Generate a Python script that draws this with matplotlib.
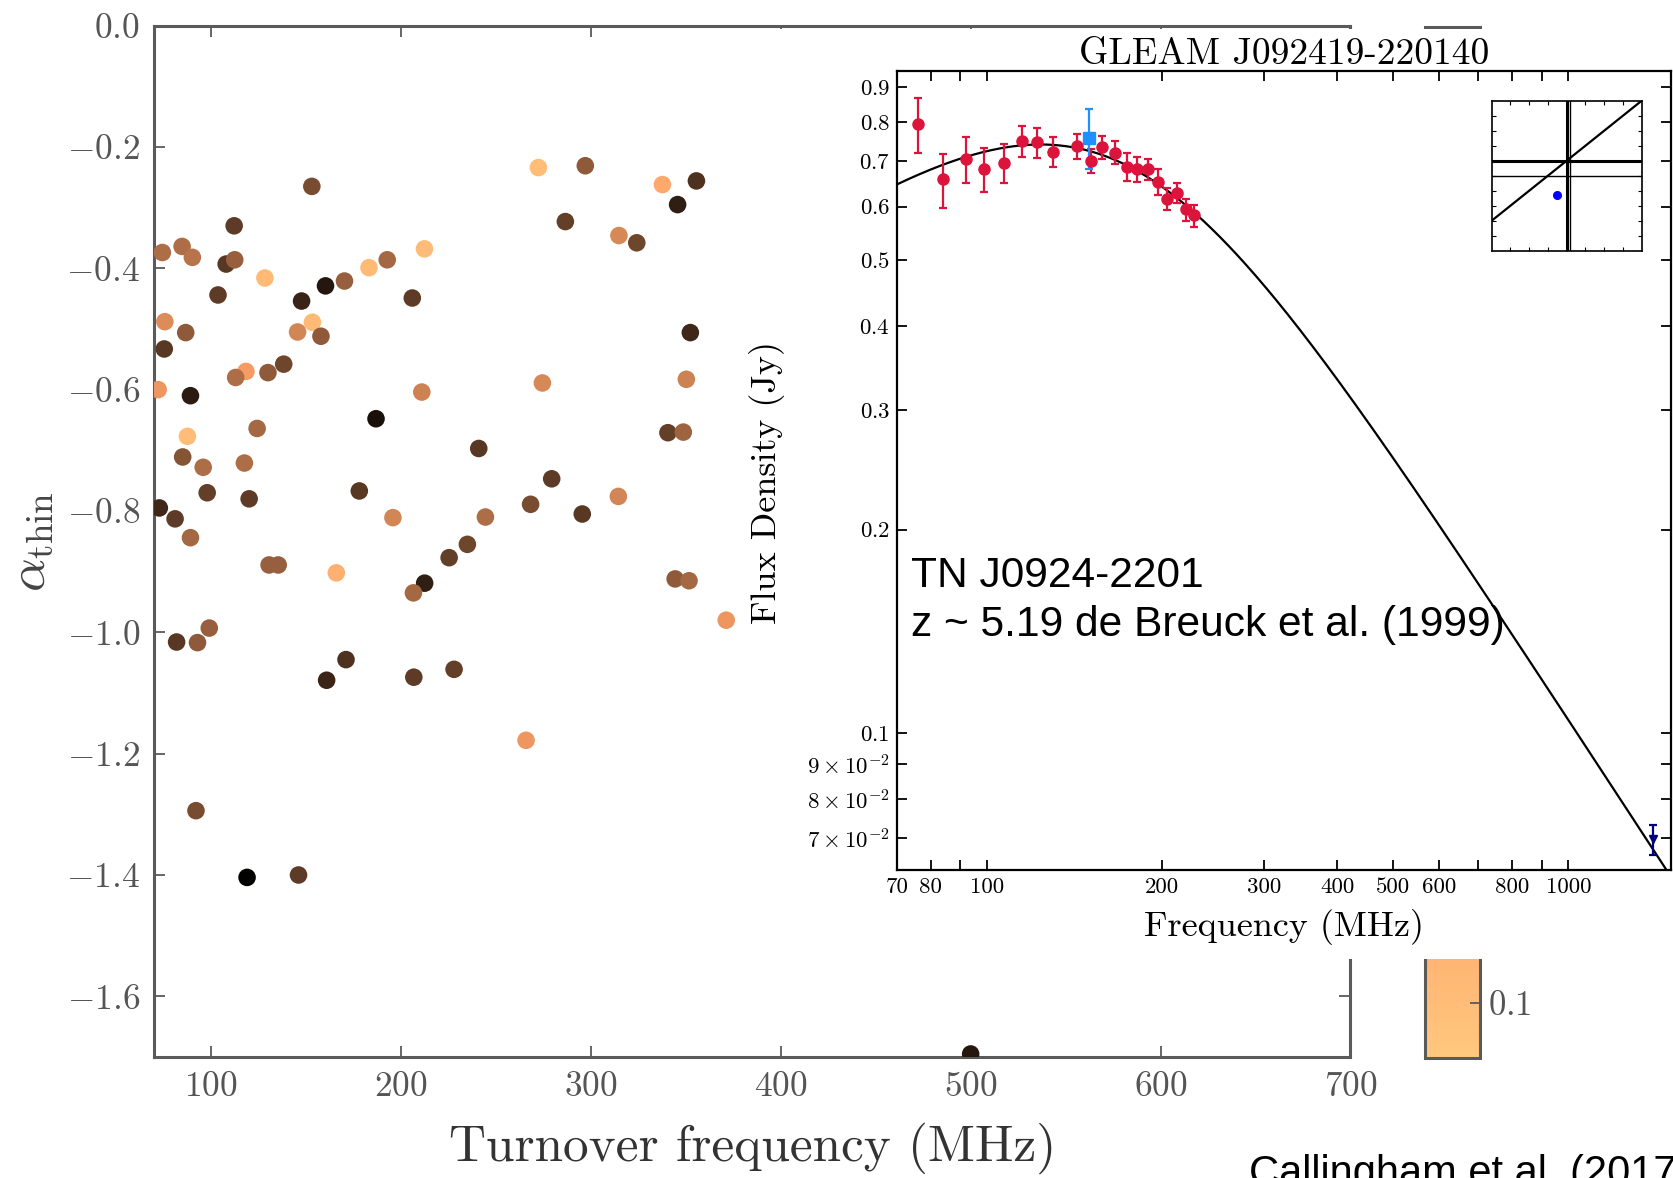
import numpy as np
import matplotlib
matplotlib.use("Agg")
import matplotlib.pyplot as plt
from matplotlib.colors import LogNorm
from matplotlib.patches import Rectangle

# ---------------- peaked-spectrum sample ----------------
turnover_mhz = [74.4, 84.8, 90.2, 112.2, 108.0, 112.5, 153.1, 103.7, 128.4, 75.7,
                86.7, 75.4, 147.7, 160.3, 170.3, 183.2, 192.8, 212.4, 206.0, 153.4,
                145.6, 157.9, 118.4, 113.0, 130.0, 138.3, 72.2, 89.2, 211.0, 186.9,
                87.6, 124.3, 85.1, 95.9, 117.6, 98.0, 120.1, 178.1, 72.8, 81.1,
                89.2, 195.8, 241.0, 279.4, 268.3, 295.5, 244.5, 314.5, 272.4, 297.1,
                286.6, 314.8, 324.2, 337.7, 345.7, 355.6, 352.4, 274.5, 350.3, 340.6,
                348.7, 130.6, 135.4, 166.0, 212.5, 206.6, 225.4, 235.0, 81.9, 92.9,
                99.1, 160.9, 171.1, 206.8, 228.0, 371.3, 344.4, 351.7, 265.9, 92.1,
                119.0, 146.1, 500.0]
alpha_thin = [-0.374, -0.364, -0.382, -0.330, -0.393, -0.386, -0.265, -0.444, -0.416, -0.488,
              -0.506, -0.533, -0.454, -0.429, -0.421, -0.399, -0.386, -0.368, -0.449, -0.489,
              -0.505, -0.512, -0.570, -0.580, -0.572, -0.558, -0.600, -0.610, -0.604, -0.648,
              -0.677, -0.664, -0.711, -0.728, -0.721, -0.770, -0.780, -0.767, -0.795, -0.813,
              -0.844, -0.811, -0.697, -0.747, -0.789, -0.805, -0.810, -0.776, -0.234, -0.231,
              -0.323, -0.346, -0.358, -0.262, -0.295, -0.256, -0.506, -0.589, -0.583, -0.671,
              -0.670, -0.889, -0.889, -0.902, -0.919, -0.935, -0.877, -0.855, -1.016, -1.017,
              -0.993, -1.079, -1.045, -1.074, -1.061, -0.980, -0.912, -0.915, -1.178, -1.294,
              -1.404, -1.400, -1.695]
peak_flux_jy = [0.528, 0.528, 0.466, 1.51, 1.64, 0.708, 1.08, 1.51, 0.106, 0.282,
                0.803, 1.64, 2.49, 3.21, 0.708, 0.106, 0.599, 0.101, 1.51, 0.106,
                0.319, 0.803, 0.201, 0.528, 0.803, 1.22, 0.228, 2.95, 0.347, 3.79,
                0.099, 0.599, 0.910, 0.528, 0.528, 1.39, 1.51, 1.64, 2.29, 1.51,
                0.599, 0.319, 1.64, 1.51, 1.08, 1.64, 0.528, 0.319, 0.099, 0.803,
                1.39, 0.306, 1.22, 0.150, 2.83, 1.86, 2.29, 0.306, 0.347, 1.39,
                0.651, 0.708, 0.708, 0.132, 2.83, 0.599, 1.39, 1.22, 1.64, 0.803,
                0.708, 2.49, 1.86, 1.51, 1.39, 0.228, 0.803, 0.599, 0.228, 1.08,
                5.2, 1.51, 3.21]

main_xticks = [100, 200, 300, 400, 500, 600, 700]
main_yticks = [0.0, -0.2, -0.4, -0.6, -0.8, -1.0, -1.2, -1.4, -1.6]
cbar_ticks = [0.1]

# ---------------- GLEAM J092419-220140 spectrum ----------------
gleam_freq = [76, 84, 92, 99, 107, 115, 122, 130, 143, 151,
              158, 166, 174, 181, 189, 197, 204, 212, 220, 227]
gleam_flux = [0.794, 0.658, 0.705, 0.681, 0.696, 0.749, 0.746, 0.723, 0.737, 0.701,
              0.734, 0.721, 0.687, 0.681, 0.681, 0.653, 0.615, 0.629, 0.594, 0.582]
gleam_err = [0.075, 0.060, 0.055, 0.050, 0.045, 0.040, 0.038, 0.036, 0.031, 0.029,
             0.029, 0.028, 0.032, 0.029, 0.024, 0.028, 0.023, 0.021, 0.022, 0.022]
tgss_freq, tgss_flux, tgss_err = [150], [0.758], [0.077]
nvss_freq, nvss_flux, nvss_err = [1400], [0.0697], [0.0036]

# fitted model: smoothly broken power law
model_amp = 1.104         # Jy at the break
model_break_mhz = 168.3
model_alpha_low = 0.55
model_alpha_high = -1.32
model_smooth = 0.352

spec_xticks = [70, 80, 90, 100, 200, 300, 400, 500, 600, 700, 800, 900, 1000]
spec_xlabels = ['70', '80', '', '100', '200', '300', '400', '500', '600', '', '800', '', '1000']
spec_yticks = [0.07, 0.08, 0.09, 0.1, 0.2, 0.3, 0.4, 0.5, 0.6, 0.7, 0.8, 0.9]
spec_ylabels = [r'$7\times10^{-2}$', r'$8\times10^{-2}$', r'$9\times10^{-2}$', r'$0.1$',
                r'$0.2$', r'$0.3$', r'$0.4$', r'$0.5$', r'$0.6$', r'$0.7$', r'$0.8$', r'$0.9$']

# ---------------- styling ----------------
plt.rcParams['mathtext.fontset'] = 'cm'
plt.rcParams['font.family'] = ['cmr10', 'DejaVu Serif']
plt.rcParams['axes.formatter.use_mathtext'] = True

W, H = 1674, 1178
fig = plt.figure(figsize=(W / 100, H / 100), dpi=100)


def fx(px):
    return px / W


def fy(py):
    return 1 - py / H


grey = '#5a5a5a'
text_grey = '#555555'
sans = ['Liberation Sans', 'DejaVu Sans']

# main scatter panel
ax = fig.add_axes([fx(154), fy(1057), fx(1350.5) - fx(154), fy(25.6) - fy(1057)], zorder=0)
norm = LogNorm(vmin=0.08, vmax=5.3)
sc = ax.scatter(turnover_mhz, alpha_thin, c=peak_flux_jy, cmap='copper_r', norm=norm,
                s=160, linewidths=0, zorder=3)
ax.set_xlim(70, 700)
ax.set_ylim(-1.70, 0.0)
ax.set_xticks(main_xticks)
ax.set_xticklabels([f'${v}$' for v in main_xticks])
ax.set_yticks(main_yticks)
ax.set_yticklabels([f'${v:.1f}$' for v in main_yticks])
ax.tick_params(direction='in', length=8, width=1.3, color=grey, labelcolor=text_grey,
               labelsize=25.5, pad=10, top=True, right=True)
for s in ax.spines.values():
    s.set_color(grey)
    s.set_linewidth(2.2)
ax.set_xlabel('Turnover frequency (MHz)', fontsize=37, color='#333333', va='center')
ax.xaxis.set_label_coords(0.5, -0.088)
ax.set_ylabel(r'$\alpha_{\rm thin}$', fontsize=38, color='#444444', va='center')
ax.yaxis.set_label_coords(-0.1016, 0.50)

# colour bar
cax = fig.add_axes([fx(1425), fy(1058), fx(1480) - fx(1425), fy(27) - fy(1058)], zorder=0)
cb = fig.colorbar(sc, cax=cax)
cb.set_ticks(cbar_ticks)
cb.set_ticklabels(['$0.1$'])
cb.minorticks_off()
cax.tick_params(direction='in', length=7, width=1.3, color=grey, labelcolor=text_grey,
                labelsize=25, pad=6)
cb.outline.set_edgecolor(grey)
cb.outline.set_linewidth(2.2)

# white backing for the spectrum panel
fig.add_artist(Rectangle((fx(740), fy(959)), 1 - fx(740), fy(29) - fy(959),
                         transform=fig.transFigure, facecolor='white', edgecolor='none',
                         zorder=2))

# spectrum panel
ax2 = fig.add_axes([fx(896.8), fy(870.1), fx(1670.8) - fx(896.8), fy(70.5) - fy(870.1)],
                   zorder=3)
ax2.set_xscale('log')
ax2.set_yscale('log')
nu = np.logspace(np.log10(60), np.log10(1700), 400)
ratio = nu / model_break_mhz
model = (model_amp * ratio ** model_alpha_low
         * (1 + ratio ** (1 / model_smooth)) ** ((model_alpha_high - model_alpha_low) * model_smooth))
ax2.plot(nu, model, color='black', lw=1.6, zorder=2)
ax2.errorbar(gleam_freq, gleam_flux, yerr=gleam_err, fmt='o', color='#dc143c',
             ms=8, elinewidth=1.6, capsize=3, capthick=1.6, zorder=3)
ax2.errorbar(tgss_freq, tgss_flux, yerr=tgss_err, fmt='s', color='#1e90ff',
             ms=8.5, elinewidth=1.6, capsize=3, capthick=1.6, zorder=3)
ax2.errorbar(nvss_freq, nvss_flux, yerr=nvss_err, fmt='v', color='#000080',
             ms=6, elinewidth=1.6, capsize=3, capthick=1.6, zorder=3)
ax2.set_xlim(70, 1500)
ax2.set_ylim(0.0628, 0.953)
ax2.set_xticks(spec_xticks)
ax2.set_xticklabels(spec_xlabels)
ax2.set_yticks(spec_yticks)
ax2.set_yticklabels(spec_ylabels)
ax2.minorticks_off()
ax2.tick_params(direction='in', length=7, width=1.3, labelsize=16.5, pad=5,
                top=True, right=True)
for s in ax2.spines.values():
    s.set_linewidth(1.6)
ax2.set_title('GLEAM J092419-220140', fontsize=27, y=1.0206, pad=0, va='center')
ax2.set_xlabel('Frequency (MHz)', fontsize=26, va='center')
ax2.xaxis.set_label_coords(0.5, -0.0708)
ax2.set_ylabel('Flux Density (Jy)', fontsize=26, va='center')
ax2.yaxis.set_label_coords(-0.168, 0.485)

ax2.text(fx(910.7), fy(587), 'TN J0924-2201', transform=fig.transFigure,
         fontsize=30.6, family=sans, va='baseline', zorder=6)
ax2.text(fx(910.7), fy(636), 'z ~ 5.19 de Breuck et al. (1999)', transform=fig.transFigure,
         fontsize=30.6, family=sans, va='baseline', zorder=6)

# small diagnostic panel in the corner
ax3 = fig.add_axes([fx(1491.7), fy(250.7), 150 / W, 150 / H], zorder=4)
ax3.set_xlim(0, 8)
ax3.set_ylim(0, 10)
ax3.plot([0, 8], [2, 10], color='black', lw=1.6)
ax3.axhline(6, color='black', lw=2.2)
ax3.axhline(5, color='black', lw=1.0)
ax3.axvline(4, color='black', lw=2.2)
ax3.axvline(4.15, color='black', lw=1.0)
ax3.plot([3.5], [3.7], 'o', color='blue', ms=5.5)
ax3.set_xticks(np.arange(1, 8))
ax3.set_yticks(np.arange(1, 10))
ax3.set_xticklabels([])
ax3.set_yticklabels([])
ax3.tick_params(direction='in', length=3, width=0.8, top=True, right=True)
for s in ax3.spines.values():
    s.set_linewidth(1.2)

fig.text(fx(1249), fy(1185), 'Callingham et al. (2017)', fontsize=30,
         family=sans, va='baseline', zorder=6)

fig.savefig('out.png', dpi=100)
